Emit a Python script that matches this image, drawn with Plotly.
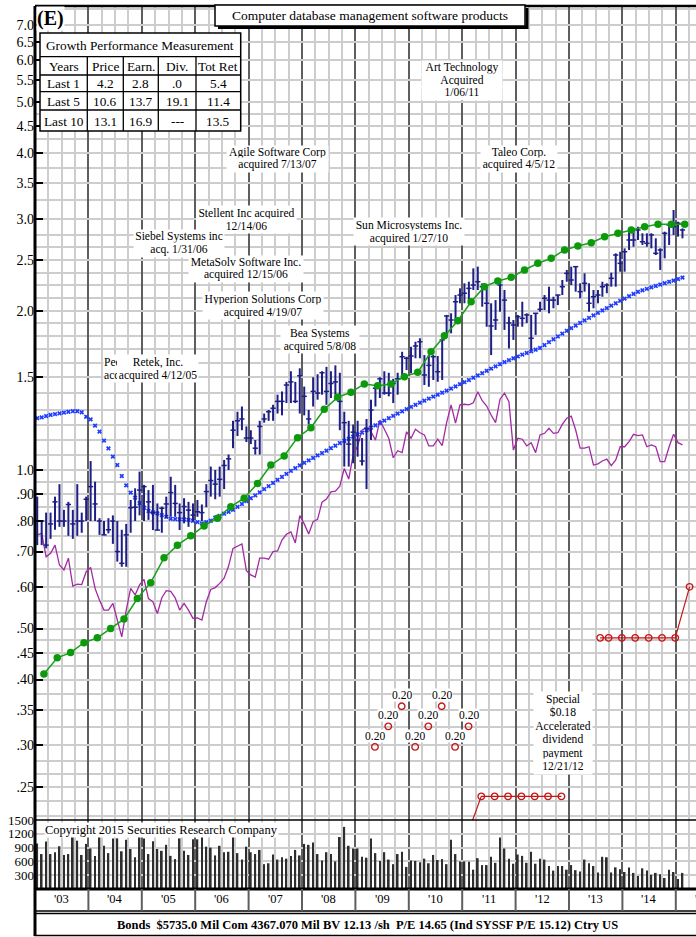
import math
import calendar
import plotly.graph_objects as go

# ============================ DATA ============================
months = [f"{2003 + i // 12}-{i % 12 + 1:02d}" for i in range(146)]  # Jan 2003 .. Feb 2015

price_high = [
    0.89, 0.80, 0.83, 0.83, 0.89, 0.94, 0.84, 0.87, 0.84, 0.94, 0.83, 0.89,
    1.04, 0.95, 0.81, 0.80, 0.81, 0.82, 0.80, 0.77, 0.79, 0.877, 0.923, 0.993,
    0.937, 0.916, 0.937, 0.864, 0.852, 0.890, 0.971, 0.937, 0.864, 0.884, 0.870, 0.864,
    0.877, 0.86, 0.94, 1.015, 1.0, 1.015, 1.045, 1.07, 1.24, 1.29, 1.32, 1.21,
    1.19, 1.14, 1.24, 1.28, 1.30, 1.33, 1.39, 1.41, 1.47, 1.54, 1.47, 1.56,
    1.44, 1.30, 1.50, 1.52, 1.54, 1.57, 1.54, 1.58, 1.53, 1.29, 1.24, 1.22,
    1.24, 1.15, 1.25, 1.36, 1.44, 1.50, 1.54, 1.53, 1.49, 1.53, 1.677, 1.641,
    1.714, 1.752, 1.779, 1.653, 1.653, 1.653, 1.646, 1.779, 1.970, 1.984, 2.149, 2.213,
    2.262, 2.278, 2.415, 2.433, 2.262, 2.213, 2.073, 2.102, 2.278, 2.197, 1.955, 1.927,
    1.970, 2.087, 1.984, 1.970, 1.984, 2.087, 2.149, 2.229, 2.133, 2.149, 2.295, 2.398,
    2.433, 2.440, 2.262, 2.363, 2.262, 2.197, 2.197, 2.278, 2.262, 2.370, 2.579, 2.597,
    2.636, 2.835, 2.856, 2.897, 2.815, 2.815, 2.815, 2.754, 2.636, 2.835, 2.961, 3.117,
    2.961, 2.877,
]
price_low = [
    0.72, 0.72, 0.71, 0.74, 0.77, 0.78, 0.78, 0.75, 0.74, 0.75, 0.76, 0.80,
    0.80, 0.80, 0.753, 0.753, 0.758, 0.724, 0.670, 0.655, 0.655, 0.76, 0.80, 0.82,
    0.80, 0.804, 0.769, 0.769, 0.76, 0.81, 0.815, 0.815, 0.769, 0.792, 0.780, 0.798,
    0.815, 0.80, 0.85, 0.89, 0.88, 0.89, 0.92, 1.00, 1.10, 1.16, 1.19, 1.13,
    1.12, 1.07, 1.07, 1.23, 1.24, 1.24, 1.28, 1.27, 1.34, 1.34, 1.34, 1.28,
    1.27, 1.22, 1.32, 1.36, 1.39, 1.33, 1.37, 1.39, 1.19, 1.015, 1.015, 1.03,
    1.06, 1.02, 0.92, 1.14, 1.32, 1.37, 1.39, 1.38, 1.34, 1.39, 1.504, 1.548,
    1.526, 1.630, 1.630, 1.450, 1.439, 1.482, 1.471, 1.482, 1.805, 1.818, 1.913, 2.073,
    2.073, 2.102, 2.197, 2.197, 2.042, 1.871, 1.653, 1.845, 1.998, 1.845, 1.702, 1.766,
    1.871, 1.871, 1.902, 1.690, 1.805, 1.998, 2.013, 1.984, 2.028, 2.057, 2.149, 2.278,
    2.245, 2.181, 2.119, 2.181, 1.998, 2.028, 2.073, 2.133, 2.166, 2.229, 2.229, 2.380,
    2.380, 2.617, 2.655, 2.734, 2.675, 2.655, 2.636, 2.560, 2.398, 2.523, 2.675, 2.795,
    2.774, 2.754,
]
price_close = [
    0.80, 0.80, 0.72, 0.79, 0.87, 0.80, 0.80, 0.86, 0.79, 0.80, 0.80, 0.88,
    0.930, 0.862, 0.80, 0.753, 0.77, 0.80, 0.700, 0.665, 0.753, 0.848, 0.85, 0.916,
    0.930, 0.87, 0.83, 0.769, 0.846, 0.862, 0.906, 0.864, 0.830, 0.852, 0.839, 0.821,
    0.833, 0.83, 0.91, 0.955, 0.94, 0.96, 1.02, 1.05, 1.19, 1.24, 1.25, 1.15,
    1.15, 1.10, 1.21, 1.25, 1.29, 1.31, 1.35, 1.35, 1.45, 1.47, 1.35, 1.51,
    1.38, 1.25, 1.41, 1.40, 1.53, 1.41, 1.46, 1.47, 1.35, 1.23, 1.12, 1.18,
    1.14, 1.04, 1.20, 1.30, 1.43, 1.49, 1.40, 1.40, 1.46, 1.49, 1.641, 1.630,
    1.646, 1.720, 1.752, 1.515, 1.58, 1.641, 1.537, 1.766, 1.961, 1.927, 2.087, 2.149,
    2.166, 2.213, 2.245, 2.278, 2.229, 2.073, 1.877, 1.927, 2.245, 2.102, 1.902, 1.885,
    1.955, 1.941, 1.970, 1.779, 1.984, 2.019, 2.119, 2.102, 2.102, 2.149, 2.229, 2.363,
    2.295, 2.433, 2.181, 2.262, 2.073, 2.133, 2.149, 2.229, 2.245, 2.312, 2.560, 2.469,
    2.597, 2.734, 2.734, 2.856, 2.713, 2.695, 2.795, 2.579, 2.617, 2.815, 2.919, 2.897,
    2.941, 2.856,
]
volume = [
    990, 760, 1030, 760, 800, 930, 740, 760, 1280, 1050, 740, 980,
    880, 720, 1250, 940, 780, 1100, 1100, 820, 1070, 870, 690, 1160,
    1100, 760, 1040, 870, 830, 960, 720, 650, 1100, 830, 740, 1080,
    1080, 1270, 920, 900, 730, 940, 800, 810, 1180, 780, 640, 920,
    800, 760, 850, 540, 560, 750, 640, 690, 660, 720, 850, 730,
    980, 960, 1010, 760, 620, 800, 760, 600, 1130, 1350, 940, 880,
    880, 700, 680, 1100, 780, 610, 800, 640, 540, 760, 810, 480,
    620, 610, 580, 660, 560, 740, 630, 650, 540, 1070, 760, 600,
    600, 590, 420, 670, 520, 520, 700, 570, 1120, 880, 660, 550,
    750, 720, 570, 810, 550, 660, 640, 500, 400, 500, 500, 420,
    520, 410, 380, 640, 560, 500, 360, 700, 690, 360, 470, 430,
    370, 470, 350, 280, 450, 400, 310, 350, 320, 240, 420, 370,
    220, 350,
]
rel_strength = [
    0.753, 0.758, 0.684, 0.695, 0.720, 0.660, 0.646, 0.680, 0.602, 0.607, 0.606, 0.641,
    0.653, 0.596, 0.566, 0.542, 0.542, 0.558, 0.519, 0.482, 0.542, 0.596, 0.579, 0.605,
    0.620, 0.570, 0.562, 0.534, 0.572, 0.590, 0.588, 0.572, 0.542, 0.558, 0.542, 0.523,
    0.524, 0.519, 0.562, 0.593, 0.598, 0.609, 0.623, 0.657, 0.710, 0.717, 0.724, 0.644,
    0.632, 0.626, 0.680, 0.680, 0.677, 0.700, 0.702, 0.736, 0.755, 0.763, 0.727, 0.819,
    0.790, 0.756, 0.798, 0.806, 0.869, 0.881, 0.909, 0.912, 0.932, 1.007, 0.961, 1.068,
    1.111, 1.191, 1.203, 1.182, 1.140, 1.244, 1.195, 1.149, 1.055, 1.088, 1.079, 1.182,
    1.149, 1.195, 1.177, 1.166, 1.111, 1.111, 1.144, 1.112, 1.230, 1.329, 1.227, 1.329,
    1.333, 1.329, 1.342, 1.408, 1.354, 1.323, 1.272, 1.230, 1.363, 1.399, 1.348, 1.091,
    1.149, 1.144, 1.111, 1.127, 1.079, 1.166, 1.174, 1.200, 1.174, 1.177, 1.221, 1.254,
    1.266, 1.191, 1.100, 1.100, 1.107, 1.022, 1.027, 1.040, 1.049, 1.019, 1.045, 1.107,
    1.107, 1.132, 1.169, 1.162, 1.166, 1.107, 1.116, 1.107, 1.037, 1.037, 1.107, 1.169,
    1.127, 1.116,
]
moving_avg = [
    1.254, 1.259, 1.266, 1.272, 1.277, 1.281, 1.285, 1.290, 1.293, 1.293, 1.287, 1.262,
    1.248, 1.214, 1.183, 1.137, 1.099, 1.060, 1.022, 0.974, 0.935, 0.906, 0.886, 0.865,
    0.848, 0.836, 0.831, 0.827, 0.821, 0.815, 0.808, 0.807, 0.806, 0.806, 0.804, 0.801,
    0.796, 0.792, 0.796, 0.801, 0.812, 0.818, 0.826, 0.833, 0.840, 0.851, 0.862, 0.873,
    0.884, 0.895, 0.907, 0.920, 0.932, 0.945, 0.958, 0.970, 0.983, 0.996, 1.008, 1.020,
    1.032, 1.043, 1.054, 1.066, 1.077, 1.088, 1.100, 1.112, 1.125, 1.136, 1.146, 1.157,
    1.168, 1.178, 1.190, 1.203, 1.216, 1.228, 1.241, 1.254, 1.267, 1.280, 1.292, 1.305,
    1.318, 1.330, 1.342, 1.354, 1.366, 1.378, 1.390, 1.402, 1.415, 1.428, 1.441, 1.455,
    1.468, 1.482, 1.497, 1.512, 1.527, 1.543, 1.558, 1.573, 1.588, 1.603, 1.617, 1.630,
    1.643, 1.656, 1.668, 1.680, 1.692, 1.705, 1.727, 1.749, 1.771, 1.793, 1.815, 1.838,
    1.860, 1.881, 1.902, 1.924, 1.945, 1.966, 1.988, 2.009, 2.030, 2.052, 2.073, 2.095,
    2.116, 2.138, 2.159, 2.180, 2.194, 2.208, 2.222, 2.236, 2.250, 2.263, 2.277, 2.290,
    2.305, 2.320,
]
earn_dates = [f"{2003 + (2 + 3 * k) // 12}-{(2 + 3 * k) % 12 + 1:02d}-01" for k in range(49)]
earnings = [
    0.410, 0.440, 0.450, 0.470, 0.480, 0.500, 0.521, 0.570, 0.611, 0.681, 0.720, 0.750,
    0.783, 0.810, 0.852, 0.884, 0.943, 1.022, 1.063, 1.152, 1.203, 1.304, 1.374, 1.405,
    1.457, 1.446, 1.457, 1.504, 1.533, 1.677, 1.799, 1.921, 2.087, 2.229, 2.285, 2.322,
    2.398, 2.469, 2.523, 2.617, 2.663, 2.702, 2.773, 2.815, 2.856, 2.897, 2.928, 2.930,
    2.930,
]
div_label_dates = ["2009-05-13", "2009-08-13", "2009-11-13", "2010-02-13",
                   "2010-05-13", "2010-08-13", "2010-11-13", "2011-02-13"]
div_label_levels = [0.298, 0.326, 0.356, 0.298, 0.326, 0.356, 0.298, 0.326]
div_label_text = ["0.20", "0.20", "0.20", "0.20", "0.20", "0.20", "0.20", "0.20"]
div_dates_a = ["2011-02-10", "2011-05-10", "2011-08-10", "2011-11-10", "2012-02-10",
               "2012-05-10", "2012-08-10", "2012-11-10"]
div_vals_a = [0.205, 0.24, 0.24, 0.24, 0.24, 0.24, 0.24, 0.24]
div_dates_b = ["2013-08-01", "2013-09-28", "2013-12-28", "2014-03-28", "2014-06-28",
               "2014-09-28", "2014-12-28", "2015-04-04"]
div_vals_b = [0.48, 0.48, 0.48, 0.48, 0.48, 0.48, 0.48, 0.60]

price_ticks = [0.25, 0.30, 0.35, 0.40, 0.45, 0.50, 0.60, 0.70, 0.80, 0.90, 1.0, 1.5,
               2.0, 2.5, 3.0, 3.5, 4.0, 4.5, 5.0, 5.5, 6.0, 6.5, 7.0]
price_tick_text = [".25", ".30", ".35", ".40", ".45", ".50", ".60", ".70", ".80", ".90",
                   "1.0", "1.5", "2.0", "2.5", "3.0", "3.5", "4.0", "4.5", "5.0", "5.5",
                   "6.0", "6.5", "7.0"]
price_minor = [0.22, 0.235, 0.265, 0.28, 0.325, 0.375, 0.425, 0.475, 0.535, 0.565,
               0.65, 0.75, 0.85, 0.95, 1.07, 1.14, 1.22, 1.3, 1.4, 1.6, 1.7, 1.8, 1.9,
               2.12, 2.25, 2.37, 2.65, 2.8, 3.25, 3.75, 4.25, 4.75, 7.5]
vol_ticks = [300, 600, 900, 1200, 1500]
years = list(range(2003, 2016))
year_labels = ["'03", "'04", "'05", "'06", "'07", "'08", "'09", "'10", "'11", "'12",
               "'13", "'14", "'15"]

title_text = "Computer database management software products"
growth_cols = ["Years", "Price", "Earn.", "Div.", "Tot Ret"]
growth_rows = ["Last 1", "Last 5", "Last 10"]
growth_price = ["4.2", "10.6", "13.1"]
growth_earn = ["2.8", "13.7", "16.9"]
growth_div = [".0", "19.1", "---"]
growth_tot = ["5.4", "11.4", "13.5"]
footer_text = ("Bonds  $5735.0 Mil Com 4367.070 Mil BV 12.13 /sh  P/E 14.65 "
               "(Ind SYSSF P/E 15.12) Ctry US")

# ============================ LAYOUT GEOMETRY ============================
W, H = 696, 937
X_LEFT, X_RIGHT = 35.0, 696.0
Y_TOP, Y_SPLIT, Y_BASE = 6.0, 820.0, 889.0
Y_ONE, PX_PER_DECADE = 470.0, 526.6
PX_PER_YEAR = 53.4
x_start = 2003.0
x_end = x_start + (X_RIGHT - X_LEFT) / PX_PER_YEAR
log_lo = (Y_ONE - Y_SPLIT) / PX_PER_DECADE
log_hi = (Y_ONE - Y_TOP) / PX_PER_DECADE
plot_h = Y_BASE - Y_TOP
split = (Y_BASE - Y_SPLIT) / plot_h

SERIF = "Liberation Serif, Times New Roman, serif"
LIGHT_GRID = "#cdcdcd"
DARK_GRID = "#5e5e5e"
BAR_COLOR = "#1e1e88"
CLEAR = "rgba(0,0,0,0)"


def px(x):
    return (x - X_LEFT) / (X_RIGHT - X_LEFT)


def py(y):
    return (Y_BASE - y) / plot_h


def month_x(s):
    y, m = map(int, s.split("-")[:2])
    return y + (m - 0.5) / 12


def date_x(s):
    y, m, d = map(int, s.split("-"))
    return y + (m - 1) / 12 + (d - 1) / (12 * calendar.monthrange(y, m)[1])


mx = [month_x(s) for s in months]
TICK = 2.6 / PX_PER_YEAR
bar_x, bar_y, tick_x, tick_y = [], [], [], []
for x, h, l, c in zip(mx, price_high, price_low, price_close):
    bar_x += [x, x, None]
    bar_y += [l, h, None]
    tick_x += [x - TICK, x + TICK, None]
    tick_y += [c, c, None]

fig = go.Figure()
fig.add_trace(go.Bar(x=mx, y=volume, width=1.7 / PX_PER_YEAR, xaxis="x", yaxis="y2",
                     marker=dict(color="#2e2e2e", line=dict(width=0)), hoverinfo="skip"))
fig.add_trace(go.Scatter(x=mx, y=rel_strength, mode="lines",
                         line=dict(color="#a32aa3", width=1.3)))
fig.add_trace(go.Scatter(x=mx, y=moving_avg, mode="markers",
                         marker=dict(symbol="x", size=4.2, color="#1f3cff")))
fig.add_trace(go.Scatter(x=bar_x, y=bar_y, mode="lines",
                         line=dict(color=BAR_COLOR, width=2)))
fig.add_trace(go.Scatter(x=tick_x, y=tick_y, mode="lines",
                         line=dict(color=BAR_COLOR, width=1.5)))
fig.add_trace(go.Scatter(x=[date_x(d) for d in earn_dates], y=earnings, mode="lines+markers",
                         line=dict(color="#18a018", width=1.5),
                         marker=dict(size=7.5, color="#0c9a0c")))
red = "#c41818"
fig.add_trace(go.Scatter(x=[date_x(d) for d in div_label_dates], y=div_label_levels,
                         mode="markers",
                         marker=dict(symbol="circle-open", size=6.5, color=red,
                                     line=dict(width=1.4))))
for dd, vv in ((div_dates_a, div_vals_a), (div_dates_b, div_vals_b)):
    fig.add_trace(go.Scatter(x=[date_x(d) for d in dd], y=vv, mode="lines+markers",
                             line=dict(color=red, width=1.2),
                             marker=dict(symbol="circle-open", size=6.5, color=red,
                                         line=dict(width=1.4))))

ann = []


def note(text, x, y, size=11.6, xanchor="center", bg="white", width=None, height=None,
         bold=False, align="center"):
    ann.append(dict(
        text=f"<b>{text}</b>" if bold else text,
        x=px(x), y=py(y), xref="paper", yref="paper", showarrow=False,
        xanchor=xanchor, yanchor="middle",
        font=dict(family=SERIF, size=size, color="black"),
        bgcolor=bg, borderpad=0, width=width, height=height, align=align))


def block(lines, cx, y0, step, width, size=11.6, xanchor="center", align="center"):
    for i, line in enumerate(lines):
        note(line, cx, y0 + i * step, size=size, xanchor=xanchor, width=width,
             height=step + 1, align=align)


# acquisition notes (an older note is partly covered by the Retek note, as in the original)
block(["Peo", "acq"], 103, 362, 13, 13, xanchor="left", align="left")
block(["Retek, Inc.", "acquired 4/12/05"], 158, 362, 13, 80)
block(["Art Technology", "Acquired", "1/06/11"], 462, 68, 12.7, 80)
block(["Taleo Corp.", "acquired 4/5/12"], 519, 153, 12.5, 76)
block(["Agile Software Corp", "acquired 7/13/07"], 277, 153, 12.5, 101)
block(["Stellent Inc acquired", "12/14/06"], 246, 213, 13, 99)
block(["Siebel Systems inc", "acq. 1/31/06"], 179, 237, 12.5, 90)
block(["MetaSolv Software Inc.", "acquired 12/15/06"], 246, 263, 12.5, 114)
block(["Hyperion Solutions Corp", "acquired 4/19/07"], 263, 299, 13, 120)
block(["Bea Systems", "acquired 5/8/08"], 320, 332.5, 13, 78)
block(["Sun Microsystems Inc.", "acquired 1/27/10"], 409, 225, 13, 110)
block(["Special", "$0.18", "Accelerated", "dividend", "payment", "12/21/12"],
      563, 699.3, 13.5, 58)

# dividend labels
for d, lv, t in zip(div_label_dates, div_label_levels, div_label_text):
    ann.append(dict(text=t, x=date_x(d), y=math.log10(lv), xref="x", yref="y",
                    showarrow=False, xanchor="center", yanchor="middle", yshift=11,
                    font=dict(family=SERIF, size=11.5, color="black"),
                    bgcolor="white", borderpad=0))

# (E) and title
note("(E)", 50.5, 18, size=20, bold=True)
note(title_text, 370, 16, size=13.5, bg=CLEAR)

# growth table texts
col_edges = [40, 87.3, 123.3, 158.3, 196, 240.7]
row_edges = [33, 56.7, 75, 91.7, 110, 131]
note("Growth Performance Measurement", 140.3, 45, size=13.3, bg=CLEAR)
for j, c in enumerate(growth_cols):
    note(c, (col_edges[j] + col_edges[j + 1]) / 2, 66, size=13.3, bg=CLEAR)
for i, r in enumerate(growth_rows):
    yc = (row_edges[i + 2] + row_edges[i + 3]) / 2 + 0.5
    for j, v in enumerate([r, growth_price[i], growth_earn[i], growth_div[i], growth_tot[i]]):
        note(v, (col_edges[j] + col_edges[j + 1]) / 2, yc, size=13.3, bg=CLEAR)

# copyright & footer
note("Copyright 2015 Securities Research Company", 44, 830, size=12.5, xanchor="left")
note(footer_text, 367, 925, size=12.5, bold=True, bg=CLEAR)

# year labels (the last one runs off the right edge, as in the original)
for yr, lab in zip(years, year_labels):
    note(lab, X_LEFT + (yr - x_start + 0.5) * PX_PER_YEAR, 899, size=12.5, bg=CLEAR)

shapes = []


def hline(y, x0=X_LEFT, x1=X_RIGHT + 5, width=1.5, color="black"):
    shapes.append(dict(type="line", xref="paper", yref="paper", x0=px(x0), x1=px(x1),
                       y0=py(y), y1=py(y), line=dict(color=color, width=width)))


def vline(x, y0, y1, width=1.5, color="black"):
    shapes.append(dict(type="line", xref="paper", yref="paper", x0=px(x), x1=px(x),
                       y0=py(y0), y1=py(y1), line=dict(color=color, width=width)))


def rect(x0, y0, x1, y1, width=1.5, fill="white"):
    shapes.append(dict(type="rect", xref="paper", yref="paper", x0=px(x0), x1=px(x1),
                       y0=py(y1), y1=py(y0), fillcolor=fill,
                       line=dict(color="black", width=width)))


hline(Y_TOP, width=2.5)
hline(Y_SPLIT, width=1.5)
hline(Y_BASE, width=3)
hline(911, width=1.5)
for yr in years[1:]:
    vline(X_LEFT + (yr - x_start) * PX_PER_YEAR, Y_BASE, 911, width=2, color=DARK_GRID)
vline(X_LEFT, Y_TOP, 936, width=3)
rect(X_LEFT, 913.5, X_RIGHT + 5, 935.5, width=1.5, fill=CLEAR)

# title box with shadow
rect(215, 5, 525, 26)
hline(27.5, 218, 527.5, width=3)
vline(527, 8, 29, width=3)
# growth table
rect(col_edges[0], row_edges[0], col_edges[-1], row_edges[-1], width=1.5)
for ye in row_edges[1:-1]:
    hline(ye, col_edges[0], col_edges[-1], width=1.3)
for xe in col_edges[1:-1]:
    vline(xe, row_edges[1], row_edges[-1], width=1.3)

year_bounds = years
quarter_lines = [y + q / 4 for y in range(2003, 2016) for q in (1, 2, 3)]

fig.update_layout(
    width=W, height=H,
    margin=dict(l=X_LEFT, r=0, t=Y_TOP, b=H - Y_BASE, pad=0),
    paper_bgcolor="white", plot_bgcolor="white", showlegend=False,
    font=dict(family=SERIF, size=12, color="black"),
    xaxis=dict(range=[x_start, x_end], domain=[0, 1], anchor="y2", showticklabels=False,
               ticks="", zeroline=False, showline=False, tickmode="array",
               tickvals=year_bounds, showgrid=True, gridcolor=DARK_GRID, gridwidth=2,
               minor=dict(tickmode="array", tickvals=quarter_lines, showgrid=True,
                          gridcolor=LIGHT_GRID, gridwidth=1.5, ticks="")),
    yaxis=dict(type="log", range=[log_lo, log_hi], domain=[split, 1], anchor="x",
               tickmode="array", tickvals=price_ticks, ticktext=price_tick_text,
               ticks="inside", ticklen=8, tickwidth=1.5, tickcolor="black",
               showgrid=True, gridcolor=LIGHT_GRID, gridwidth=1.5,
               minor=dict(tickmode="array", tickvals=price_minor, showgrid=True,
                          gridcolor=LIGHT_GRID, gridwidth=1.5, ticks=""),
               showline=False, zeroline=False, tickfont=dict(size=14)),
    yaxis2=dict(range=[0, 1500], domain=[0, split], anchor="x", tickmode="array",
                tickvals=vol_ticks, ticks="", showgrid=True, gridcolor=LIGHT_GRID,
                gridwidth=1.5, showline=False, zeroline=False, tickfont=dict(size=13)),
    annotations=ann,
    shapes=shapes,
)

fig.write_html("out.html", config={"displayModeBar": False},
               post_script="document.body.style.margin='0';document.body.style.overflow='hidden';")
